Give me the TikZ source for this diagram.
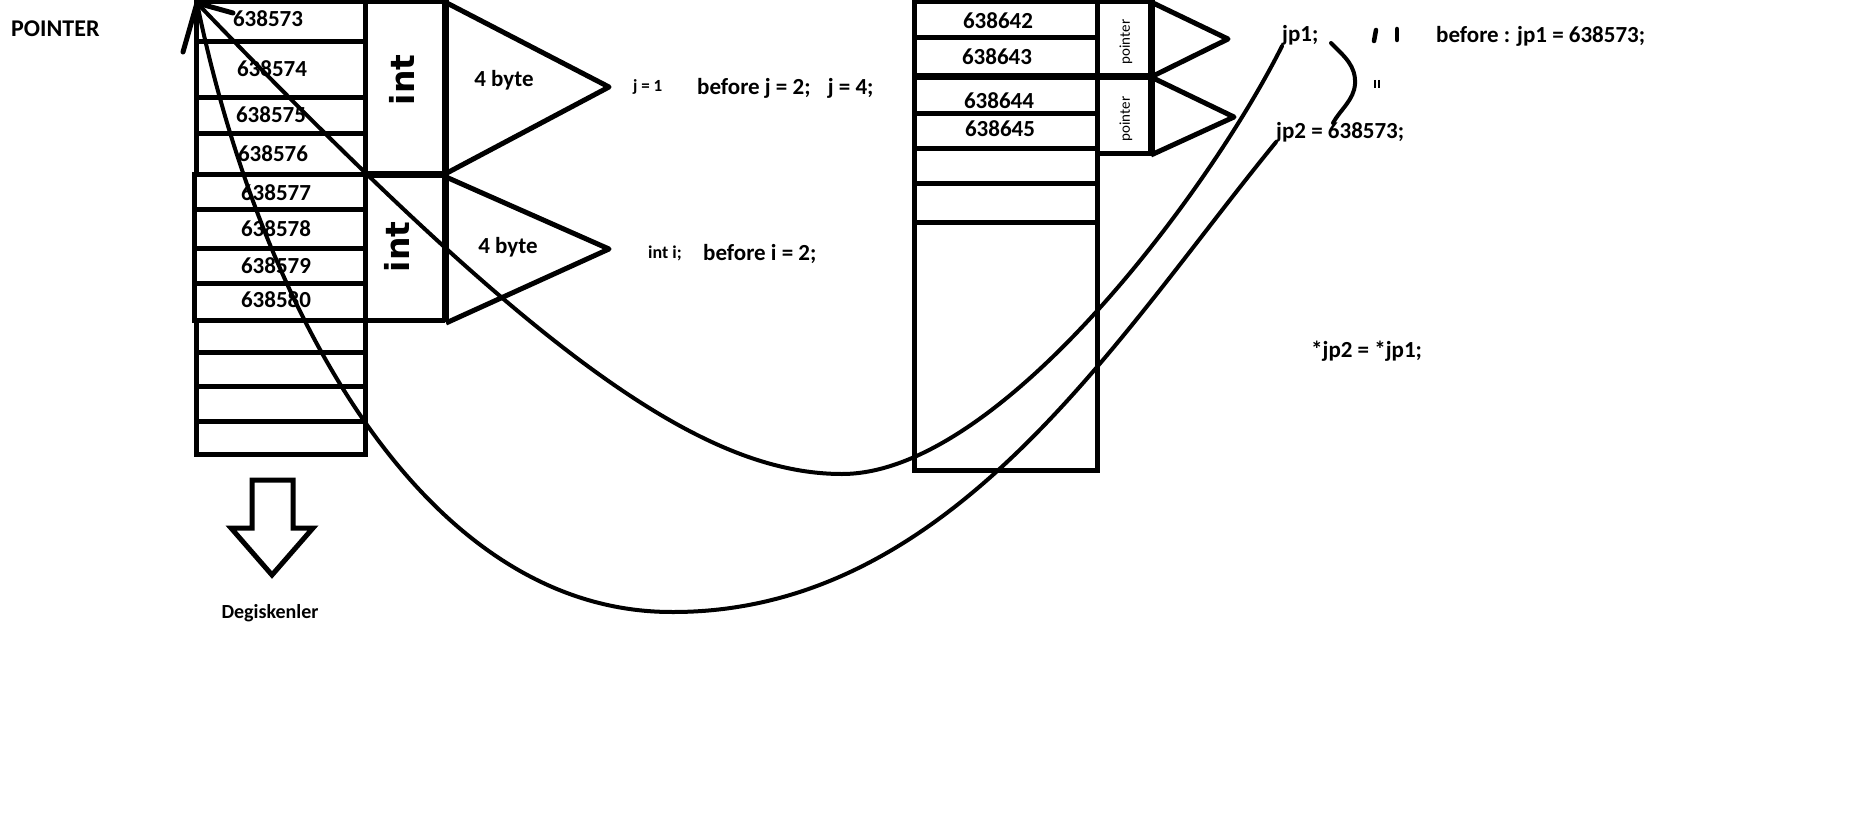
\documentclass[tikz,border=0pt]{standalone}
\usepackage{fontspec}
\setmainfont{Carlito}
\newfontfamily\intfont{DejaVu Sans}
\begin{document}
\begin{tikzpicture}[x=1pt,y=-1pt]
\tikzset{
  box/.style={draw=black, line width=5pt},
  heavy/.style={draw=black, line width=7pt},
  tri/.style={draw=black, line width=5pt, line join=round},
  addr/.style={font=\bfseries\fontsize{23}{26}\selectfont, inner sep=0pt},
  lbl/.style={font=\bfseries\fontsize{23}{26}\selectfont, inner sep=0pt, anchor=base west},
  smalllbl/.style={font=\bfseries\fontsize{17}{20}\selectfont, inner sep=0pt, anchor=base west},
  inttxt/.style={font=\intfont\bfseries\fontsize{33}{36}\selectfont, rotate=90, inner sep=0pt},
  ptrtxt/.style={font=\fontsize{15}{16}\selectfont, rotate=90, inner sep=0pt},
  curve/.style={draw=black, line width=4pt, line cap=round},
  barb/.style={draw=black, line width=5pt, line cap=round},
  tick/.style={draw=black, line width=1.6pt},
}
\fill[white] (0,0) rectangle (1874,816);
\useasboundingbox (0,0) rectangle (1874,816);

% ---------- left memory column ----------
\draw[box] (196,2) rectangle (365,174);
\draw[box] (196,42) -- (365,42);
\draw[box] (196,97) -- (365,97);
\draw[box] (196,133) -- (365,133);
\draw[box] (194,174) rectangle (365,320);
\draw[box] (194,209) -- (365,209);
\draw[box] (194,248) -- (365,248);
\draw[box] (194,283) -- (365,283);
\draw[box] (196,320) rectangle (365,454);
\draw[box] (196,352) -- (365,352);
\draw[box] (196,386) -- (365,386);
\draw[box] (196,421) -- (365,421);

% int columns
\draw[box] (365,2) -- (445,2);
\draw[heavy] (365,174) -- (445,174);
\draw[box] (365,320) -- (445,320);
\draw[heavy] (445,0) -- (445,322);

% triangles
\draw[tri] (445,2) -- (609,87) -- (445,174);
\draw[tri] (446,177) -- (609,249) -- (446,323);

% addresses
\node[addr] (a1) at (268,19) {638573};
\node[addr] (a2) at (272,69) {638574};
\node[addr] (a3) at (271,115) {638575};
\node[addr] (a4) at (273,154) {638576};
\node[addr] (a5) at (276,193) {638577};
\node[addr] (a6) at (276,229) {638578};
\node[addr] (a7) at (276,266) {638579};
\node[addr] (a8) at (276,300) {638580};

\node[inttxt] (int1) at (402,80) {int};
\node[inttxt] (int2) at (397,247) {int};

\node[lbl, anchor=base] (b1) at (504,87) {4 byte};
\node[lbl, anchor=base] (b2) at (508,253) {4 byte};

\node[lbl, font=\bfseries\fontsize{24}{26}\selectfont] (pt) at (11,37) {POINTER};

\node[smalllbl] (j1) at (633,92) {j = 1};
\node[lbl] (bj) at (697,95) {before j = 2;\hspace{12pt} j = 4;};
\node[smalllbl, font=\bfseries\fontsize{18}{20}\selectfont] (inti) at (648,258) {int i;};
\node[lbl] (bi) at (703,260) {before i = 2;};

% block arrow
\draw[box, line join=miter] (252,480) -- (293,480) -- (293,528) -- (313,528) -- (272,575) -- (231,528) -- (252,528) -- cycle;
\node[lbl, anchor=base, font=\bfseries\fontsize{20}{22}\selectfont] (deg) at (270,618) {Degiskenler};

% ---------- right memory column ----------
\draw[box] (914,2) rectangle (1097,470);
\draw[box] (914,38) -- (1097,38);
\draw[heavy] (914,77) -- (1151,77);
\draw[box] (914,113) -- (1097,113);
\draw[box] (914,148) -- (1097,148);
\draw[box] (914,183) -- (1097,183);
\draw[box] (914,222) -- (1097,222);
\draw[box] (1097,2) -- (1151,2);
\draw[box] (1097,153) -- (1151,153);
\draw[heavy] (1151,0) -- (1151,156);
\draw[tri] (1151,2) -- (1228,39) -- (1151,77);
\draw[tri] (1151,77) -- (1234,117) -- (1151,155);

\node[addr] (r1) at (998,21) {638642};
\node[addr] (r2) at (997,57) {638643};
\node[addr] (r3) at (999,101) {638644};
\node[addr] (r4) at (1000,129) {638645};

\node[ptrtxt] (p1) at (1126,42) {pointer};
\node[ptrtxt] (p2) at (1126,119) {pointer};

% ---------- right texts ----------
\node[lbl] (jp1) at (1282,42) {jp1;};
\node[lbl] (bef) at (1436,43) {before : jp1 = 638573;};
\node[lbl] (jp2) at (1276,138) {jp2 = 638573;};
\node[lbl] (deref) at (1311,357) {*jp2 = *jp1;};

% small "=" mark drawn upright
\draw[tick] (1375,80) -- (1375,88);
\draw[tick] (1379,80) -- (1379,88);

\draw[barb, line width=4.5pt] (1376,30) -- (1374,41);
\draw[barb, line width=4.5pt] (1397,29) -- (1397,40);
\draw[curve] (1331,43) .. controls (1345,57) and (1356,66) .. (1355,84) .. controls (1354,100) and (1340,110) .. (1333,123);

% ---------- pointer curves ----------
\coordinate (tip) at (197,3);
\draw[curve] (jp1.south west) .. controls (1210,190) and (1000,474) .. (842,474) .. controls (700,474) and (530,350) .. (tip);
\draw[curve] (jp2.south west) .. controls (1118,335) and (953,612) .. (673,612) .. controls (420,613) and (258,300) .. (tip);
\draw[barb] (tip) -- (183,52);
\draw[barb] (tip) -- (233,13);
\end{tikzpicture}
\end{document}
